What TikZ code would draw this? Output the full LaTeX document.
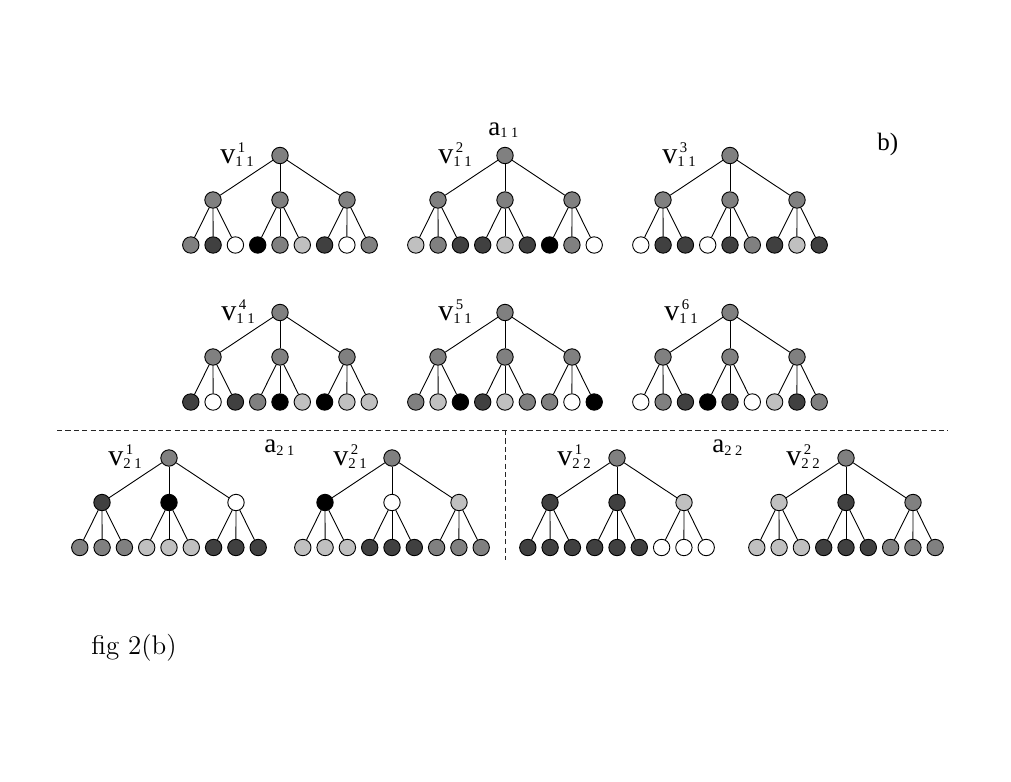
\documentclass[tikz,border=0pt]{standalone}
\usepackage{fontspec}
\newfontfamily\tms{Liberation Serif}
\usetikzlibrary{calc}
\definecolor{cW}{gray}{1}
\definecolor{cL}{HTML}{C0C0C0}
\definecolor{cM}{HTML}{808080}
\definecolor{cD}{HTML}{404040}
\definecolor{cB}{gray}{0}
\newcommand{\vlab}[2]{{\fontsize{15pt}{16pt}\selectfont v}{\fontsize{7.4pt}{8pt}\selectfont\rlap{\hspace{1.2pt}\raisebox{5.4pt}{#1}}\raisebox{-1.8pt}{#2}}}
\newcommand{\alab}[1]{{\fontsize{13.5pt}{15pt}\selectfont a}{\fontsize{7.2pt}{8pt}\selectfont\raisebox{-1.5pt}{#1}}}
\newcommand{\drawtree}[5]{%
  \node[nd,fill=#3] (#1r) at (#2) {};
  \foreach \c [count=\i] in {#4} {
    \node[nd,fill=\c] (#1m\i) at ($(#1r)+({(\i-2)*67},44.5)$) {};
    \draw[edge] (#1r) -- (#1m\i);
  }
  \foreach \c [count=\j] in {#5} {
    \pgfmathtruncatemacro{\p}{div(\j-1,3)+1}
    \node[nd,fill=\c] (#1l\j) at ($(#1r)+({(\j-5)*22.3},89.5)$) {};
    \draw[edge] (#1m\p) -- (#1l\j);
  }%
}
\begin{document}
\begin{tikzpicture}[x=0.5pt,y=-0.5pt,
  nd/.style={circle,draw=black,line width=0.45pt,minimum size=8.2pt,inner sep=0pt},
  edge/.style={draw=black,line width=0.45pt},
  lab/.style={inner sep=0pt,anchor=base west,font=\tms},
  sep/.style={draw=black!85,line width=0.5pt,dash pattern=on 2.6pt off 1.6pt}]
\useasboundingbox (0,0) rectangle (1011,781);
% row 1
\drawtree{t1}{280,155.5}{cM}{cM,cM,cM}{cM,cD,cW,cB,cM,cL,cD,cW,cM}
\drawtree{t2}{505,155.5}{cM}{cM,cM,cM}{cL,cM,cD,cD,cL,cD,cB,cM,cW}
\drawtree{t3}{730,155.5}{cM}{cM,cM,cM}{cW,cD,cD,cW,cD,cM,cD,cL,cD}
% row 2
\drawtree{t4}{280,312.5}{cM}{cM,cM,cM}{cD,cW,cD,cM,cB,cL,cB,cL,cL}
\drawtree{t5}{505,312.5}{cM}{cM,cM,cM}{cM,cL,cB,cD,cL,cM,cM,cW,cB}
\drawtree{t6}{730,312.5}{cM}{cM,cM,cM}{cW,cM,cD,cB,cD,cW,cL,cD,cM}
% row 3
\drawtree{t7}{169,458}{cM}{cD,cB,cW}{cM,cM,cM,cL,cL,cL,cD,cD,cD}
\drawtree{t8}{392,458}{cM}{cB,cW,cL}{cL,cL,cL,cD,cD,cD,cM,cM,cM}
\drawtree{t9}{617,458}{cM}{cD,cD,cL}{cD,cD,cD,cD,cD,cD,cW,cW,cW}
\drawtree{t10}{846,458}{cM}{cL,cD,cM}{cL,cL,cL,cD,cD,cD,cM,cM,cM}
% labels
\node[lab] (v1) at (220,163) {\vlab{1}{1 1}};
\node[lab] (v2) at (438,163) {\vlab{2}{1 1}};
\node[lab] (v3) at (662,163) {\vlab{3}{1 1}};
\node[lab] (v4) at (221,320) {\vlab{4}{1 1}};
\node[lab] (v5) at (438,320) {\vlab{5}{1 1}};
\node[lab] (v6) at (664,320) {\vlab{6}{1 1}};
\node[lab] (v7) at (108,465) {\vlab{1}{2 1}};
\node[lab] (v8) at (333,465) {\vlab{2}{2 1}};
\node[lab] (v9) at (557,465) {\vlab{1}{2 2}};
\node[lab] (v10) at (786,465) {\vlab{2}{2 2}};
\node[lab] (a11) at (488,135) {\alab{1 1}};
\node[lab] (a21) at (264,452) {\alab{2 1}};
\node[lab] (a22) at (712,452) {\alab{2 2}};
\node[lab,font=\tms\fontsize{12.5pt}{14pt}\selectfont] (b) at (877,150) {b)};
\node[inner sep=0pt,anchor=base west,font=\fontsize{13.5pt}{15pt}\selectfont] (fig) at (91,654) {fig 2(b)};
% separators
\coordinate (hl) at (57,430);
\coordinate (hr) at (948,430);
\coordinate (vt) at (505,430);
\coordinate (vb) at (505,560);
\draw[sep] (hl) -- (hr);
\draw[sep] (vt) -- (vb);
\end{tikzpicture}
\end{document}
